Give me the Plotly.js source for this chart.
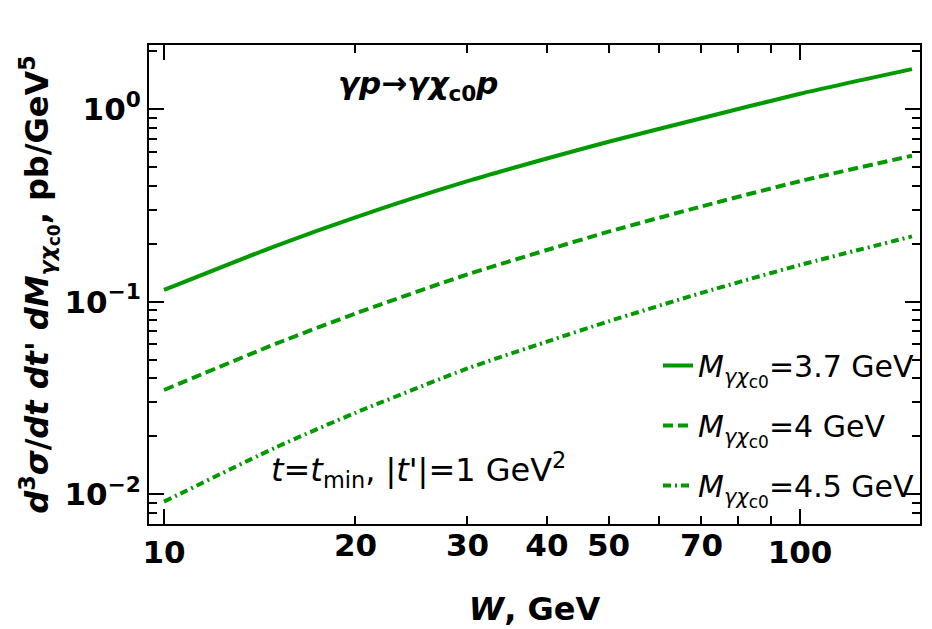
<!DOCTYPE html>
<html>
<head>
<meta charset="utf-8">
<script src="https://cdn.plot.ly/plotly-3.0.1.min.js"></script>
<style>html,body{margin:0;padding:0;background:#fff;}#chart{width:932px;height:629px;}</style>
</head>
<body>
<div id="chart"></div>
<script>
// ---- data ----
const W = [10, 15, 20, 30, 40, 50, 70, 100, 150];
const sigma_M37 = [0.115, 0.195, 0.274, 0.422, 0.553, 0.676, 0.895, 1.20, 1.61];
const sigma_M40 = [0.0348, 0.0605, 0.0868, 0.1385, 0.1854, 0.2307, 0.312, 0.422, 0.572];
const sigma_M45 = [0.00916, 0.01754, 0.0265, 0.045, 0.062, 0.079, 0.111, 0.155, 0.218];
const subM = "<sub><span style=\"font-size:21px\"><i>γχ</i></span><sub><span style=\"font-size:17px\">c0</span></sub></sub>";
const seriesNames = [
  "<i>M</i>" + subM + "=3.7 GeV",
  "<i>M</i>" + subM + "=4 GeV",
  "<i>M</i>" + subM + "=4.5 GeV"
];
const xMajorVals = [10, 100];
const xMajorText = ["10", "100"];
const xMidVals = [20, 30, 40, 50, 70];
const xMidText = ["20", "30", "40", "50", "70"];
const xMinorVals = [20, 30, 40, 50, 60, 70, 80, 90];
const yTickVals = [0.01, 0.1, 1];
const yTickText = ["10<sup>−2</sup>", "10<sup>−1</sup>", "10<sup>0</sup>"];

const yMinorVals = [];
[0.001, 0.01, 0.1, 1].forEach(d => { for (let k = 2; k <= 9; k++) yMinorVals.push(d * k); });

const green = "#009a00";
const FONT = "DejaVu Sans, sans-serif";

const traces = [
  {x: W, y: sigma_M37, name: seriesNames[0], mode: "lines",
   line: {color: green, width: 4, shape: "spline", smoothing: 0.6}, legendgroup: "a"},
  {x: W, y: sigma_M40, name: seriesNames[1], mode: "lines",
   line: {color: green, width: 4, dash: "10px,5px", shape: "spline", smoothing: 0.6}, legendgroup: "b"},
  {x: W, y: sigma_M45, name: seriesNames[2], mode: "lines",
   line: {color: green, width: 4, dash: "8px,4px,2px,4px", shape: "spline", smoothing: 0.6}, legendgroup: "c"},
  {x: W, y: sigma_M37, xaxis: "x2", yaxis: "y", mode: "lines", opacity: 0,
   line: {width: 0}, showlegend: false, hoverinfo: "skip"}
];

const xr = [0.9764, 2.1887];
const yr = [-2.154, 0.332];

const layout = {
  width: 932, height: 629,
  margin: {l: 149, r: 12, t: 45, b: 105},
  paper_bgcolor: "#fff", plot_bgcolor: "#fff",
  showlegend: true,
  legend: {
    x: 1.0, xanchor: "right", y: 0.385, yanchor: "top",
    bgcolor: "rgba(0,0,0,0)", tracegroupgap: 18,
    font: {family: FONT, size: 30, color: "#000"}
  },
  xaxis: {
    type: "log", range: xr, showgrid: false, zeroline: false,
    showline: true, linecolor: "#000", linewidth: 2, mirror: "ticks",
    ticks: "inside", ticklen: 15, tickwidth: 2, tickcolor: "#000",
    tickmode: "array", tickvals: xMajorVals, ticktext: xMajorText,
    tickfont: {family: FONT, size: 31, color: "#000", weight: "bold"},
    minor: {tickmode: "array", tickvals: xMinorVals, ticks: "inside", ticklen: 8, tickwidth: 2, tickcolor: "#000", showgrid: false},
    title: {text: "<b><i>W</i>, GeV</b>", font: {family: FONT, size: 32, color: "#000"}, standoff: 28}
  },
  xaxis2: {
    type: "log", range: xr, overlaying: "x", anchor: "y", side: "bottom",
    showgrid: false, zeroline: false, showline: false, ticks: "",
    tickmode: "array", tickvals: xMidVals, ticktext: xMidText,
    tickfont: {family: FONT, size: 31, color: "#000", weight: "bold"}
  },
  yaxis: {
    type: "log", range: yr, showgrid: false, zeroline: false,
    showline: true, linecolor: "#000", linewidth: 2, mirror: "ticks",
    ticks: "inside", ticklen: 15, tickwidth: 2, tickcolor: "#000",
    tickmode: "array", tickvals: yTickVals, ticktext: yTickText,
    tickfont: {family: FONT, size: 31, color: "#000", weight: "bold"},
    minor: {tickmode: "array", tickvals: yMinorVals, ticks: "inside", ticklen: 8, tickwidth: 2, tickcolor: "#000", showgrid: false},
    title: {text: "<b><i>d</i><sup>3</sup><i>σ</i>/<i>dt dt' dM</i><sub><span style=\"font-size:22px\"><i>γχ</i></span><sub><span style=\"font-size:17px\">c0</span></sub></sub>, pb/GeV<sup>5</sup></b>",
            font: {family: FONT, size: 32, color: "#000"}, standoff: 6}
  },
  annotations: [
    {xref: "paper", yref: "paper", x: 0.349, y: 0.916, xanchor: "center", yanchor: "middle", showarrow: false,
     text: "<b><i>γp→γχ</i><sub>c0</sub><i>p</i></b>", font: {family: FONT, size: 31, color: "#000"}},
    {xref: "paper", yref: "paper", x: 0.349, y: 0.113, xanchor: "center", yanchor: "middle", showarrow: false,
     text: "<i>t</i>=<i>t</i><sub>min</sub>, |<i>t</i>'|=1 GeV<sup>2</sup>", font: {family: FONT, size: 32, color: "#000"}}
  ]
};

Plotly.newPlot("chart", traces, layout, {displayModeBar: false, staticPlot: true});
</script>
</body>
</html>
